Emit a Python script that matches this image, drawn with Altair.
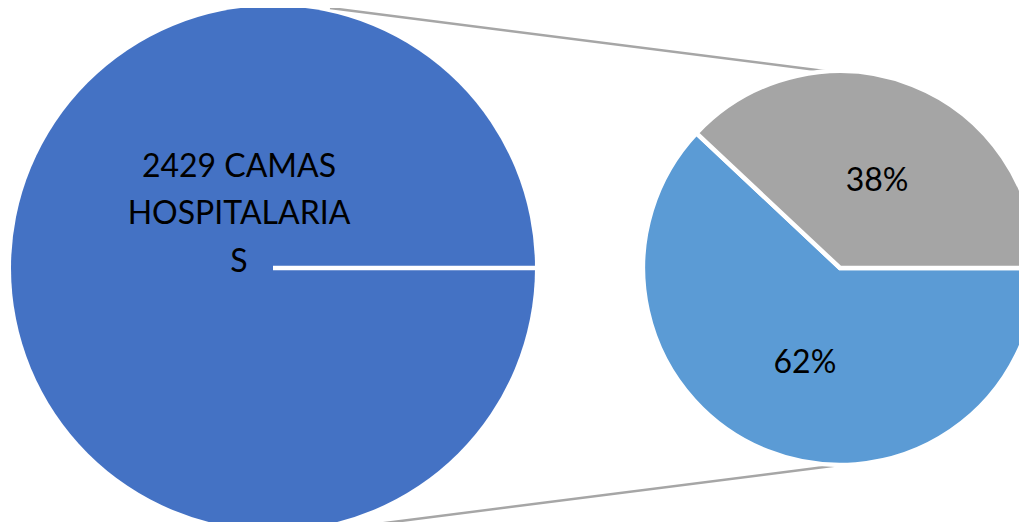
import math
import altair as alt
import pandas as pd

# ---- data ----
big_label_lines = ["2429 CAMAS", "HOSPITALARIA", "S"]
big_values = [2429]
small_labels = ["62%", "38%"]
small_values = [62, 38]
small_colors = ["#5B9BD5", "#A5A5A5"]
big_color = "#4472C4"

# ---- layout (pixels, chart coords) ----
W, H = 1011, 514
BIG_CX, BIG_CY, BIG_R = 265, 260, 262
SM_CX, SM_CY, SM_R = 832, 260, 197
FONT = "Lato"
FS = 32

big_df = pd.DataFrame({"value": big_values, "label": ["\n".join(big_label_lines)]})
small_df = pd.DataFrame({"cat": small_labels, "value": small_values, "order": list(range(len(small_values)))})

start = math.pi / 2
theta_small = alt.Theta("value:Q", stack=True,
                        scale=alt.Scale(range=[start, start + 2 * math.pi]))

big_arc = alt.Chart(big_df).mark_arc(outerRadius=BIG_R, stroke=None).encode(
    theta=alt.Theta("value:Q", stack=True, scale=alt.Scale(range=[start, start + 2 * math.pi])),
    color=alt.value(big_color),
    x=alt.value(BIG_CX), y=alt.value(BIG_CY),
)

sep = alt.Chart(big_df).mark_rule(color="white", strokeWidth=4.5).encode(
    x=alt.value(BIG_CX), x2=alt.value(BIG_CX + BIG_R),
    y=alt.value(BIG_CY), y2=alt.value(BIG_CY),
)

big_text = alt.Chart(big_df).mark_text(
    font=FONT, fontSize=FS, color="#000000", lineBreak="\n", lineHeight=47.5,
    align="center", baseline="middle",
).encode(
    text="label:N",
    x=alt.value(BIG_CX - 34), y=alt.value(BIG_CY - 101.5),
)

# connector lines between the two pies
conn_color = "#A6A6A6"
top_conn = alt.Chart(big_df).mark_rule(color=conn_color, strokeWidth=2.5).encode(
    x=alt.value(BIG_CX + 57), y=alt.value(BIG_CY - BIG_R + 2),
    x2=alt.value(SM_CX), y2=alt.value(SM_CY - SM_R + 2),
)
bot_conn = alt.Chart(big_df).mark_rule(color=conn_color, strokeWidth=2.5).encode(
    x=alt.value(BIG_CX + 57), y=alt.value(BIG_CY + BIG_R),
    x2=alt.value(SM_CX), y2=alt.value(SM_CY + SM_R),
)

small_arc = alt.Chart(small_df).mark_arc(outerRadius=SM_R, stroke="white", strokeWidth=4.5).encode(
    theta=theta_small,
    color=alt.Color("cat:N", scale=alt.Scale(domain=small_labels, range=small_colors), legend=None),
    order=alt.Order("order:Q"),
    x=alt.value(SM_CX), y=alt.value(SM_CY),
)

small_text = alt.Chart(small_df).mark_text(
    radius=98, font=FONT, fontSize=FS, color="#000000", align="center", baseline="middle",
    dy=4, dx=1,
).encode(
    theta=theta_small,
    text="cat:N",
    order=alt.Order("order:Q"),
    x=alt.value(SM_CX), y=alt.value(SM_CY),
)

chart = alt.layer(
    big_arc, sep, big_text, top_conn, bot_conn, small_arc, small_text
).resolve_scale(theta="independent", color="independent").properties(
    width=W, height=H,
    autosize=alt.AutoSizeParams(type="none"),
    padding=0,
    background="white",
).configure_view(stroke=None)

chart.save("out.html", embed_options={"renderer": "svg", "actions": False})
